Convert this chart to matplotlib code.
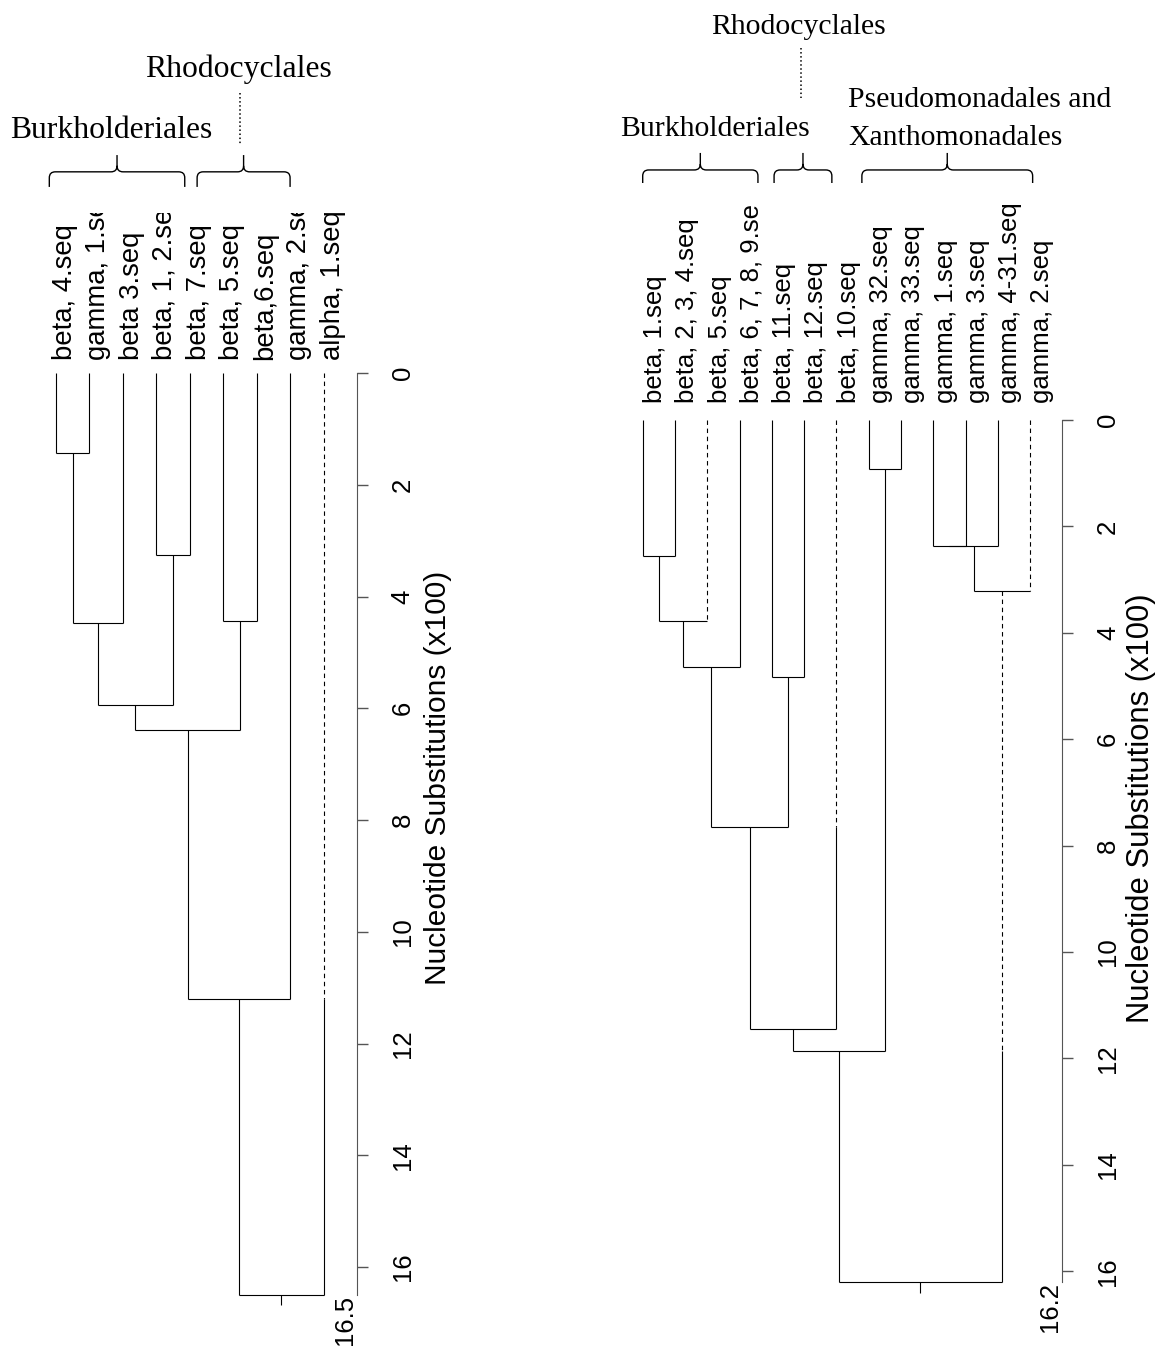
import matplotlib
matplotlib.use('Agg')
import matplotlib.pyplot as plt
from matplotlib.path import Path
from matplotlib.patches import PathPatch
from matplotlib.transforms import Bbox, TransformedBbox

plt.rcParams['font.family'] = ['Liberation Sans', 'DejaVu Sans']

# левое дерево: листья, слияния (узел a, узел b, высота), пунктирные ветви
left_leaves = [
    'beta, 4.seq', 'gamma, 1.seq', 'beta 3.seq', 'beta, 1, 2.seq', 'beta, 7.seq',
    'beta, 5.seq', 'beta,6.seq', 'gamma, 2.seq', 'alpha, 1.seq',
]
left_merges = [
    (0, 1, 1.43),
    (3, 4, 3.26),
    (9, 2, 4.48),
    (5, 6, 4.44),
    (11, 10, 5.94),
    (13, 12, 6.38),
    (14, 7, 11.21),
    (15, 8, 16.5),
]
left_dashed = {8: 11.21}
left_ticks = [0, 2, 4, 6, 8, 10, 12, 14, 16]
left_max = 16.5

# правое дерево
right_leaves = [
    'beta, 1.seq', 'beta, 2, 3, 4.seq', 'beta, 5.seq', 'beta, 6, 7, 8, 9.seq',
    'beta, 11.seq', 'beta, 12.seq', 'beta, 10.seq', 'gamma, 32.seq', 'gamma, 33.seq',
    'gamma, 1.seq', 'gamma, 3.seq', 'gamma, 4-31.seq', 'gamma, 2.seq',
]
right_merges = [
    (0, 1, 2.55),
    (13, 2, 3.78),
    (14, 3, 4.64),
    (4, 5, 4.83),
    (15, 16, 7.65),
    (17, 6, 11.45),
    (7, 8, 0.93),
    (18, 19, 11.87),
    (9, 10, 2.36),
    (21, 11, 2.36),
    (22, 12, 3.21),
    (20, 23, 16.2),
]
right_dashed = {2: 3.78, 6: 7.65, 12: 3.21, 23: 11.87}
right_ticks = [0, 2, 4, 6, 8, 10, 12, 14, 16]
right_max = 16.2

AXIS_TITLE = 'Nucleotide Substitutions (x100)'

W, H = 1157, 1353
LINE = dict(color='black', lw=0.8, solid_capstyle='butt')
DASH = (0, (4, 3.3))


def make_axes(fig, x0, xstep, y0, ystep, xlim):
    # оси в пиксельной раскладке: лист 0 в x0, высота 0 в y0
    left = x0 + xlim[0] * xstep
    right = x0 + xlim[1] * xstep
    ax = fig.add_axes([left / W, 0, (right - left) / W, 1])
    ax.set_xlim(*xlim)
    ax.set_ylim((H - y0) / ystep, -y0 / ystep)
    ax.patch.set_visible(False)
    for s in ('left', 'top', 'bottom'):
        ax.spines[s].set_visible(False)
    ax.set_xticks([])
    return ax


def draw_tree(ax, leaves, merges, dashed, stub):
    n = len(leaves)
    xs = [float(i) for i in range(n)]
    hs = [0.0] * n
    for a, b, h in merges:
        for c in (a, b):
            start = hs[c]
            if c in dashed:
                cut = min(dashed[c], h)
                ax.plot([xs[c], xs[c]], [start, cut], color='black', lw=0.8, ls=DASH)
                start = cut
            if start < h:
                ax.plot([xs[c], xs[c]], [start, h], **LINE)
        ax.plot([xs[a], xs[b]], [h, h], **LINE)
        xs.append((xs[a] + xs[b]) / 2)
        hs.append(h)
    ax.plot([xs[-1], xs[-1]], [hs[-1], hs[-1] + stub], **LINE)


def draw_axis(ax, ticks, top, pad, size):
    sp = ax.spines['right']
    sp.set_bounds(0, top)
    sp.set_color('#555555')
    ax.yaxis.tick_right()
    ax.set_yticks(ticks)
    ax.set_yticklabels([str(t) for t in ticks])
    ax.tick_params(axis='y', length=7.7, width=1, color='#555555', pad=pad,
                   labelsize=size, labelrotation=90)
    for t in ax.get_yticklabels():
        t.set_va('center')
    ax.text(ax.get_xlim()[1], top, str(top), rotation=90, ha='right', va='top',
            fontsize=size)


def leaf_labels(ax, leaves, dx, gap, clip_y, size):
    x0, x1 = ax.get_xlim()
    p0 = ax.transLimits.transform((x0, clip_y))
    p1 = ax.transLimits.transform((x1, 0))
    box = Bbox.from_extents(min(p0[0], p1[0]), min(p0[1], p1[1]),
                            max(p0[0], p1[0]), max(p0[1], p1[1]))
    clip = TransformedBbox(box, ax.transAxes)
    for i, lab in enumerate(leaves):
        t = ax.text(i + dx, -gap, lab, rotation=90, rotation_mode='anchor',
                    ha='left', va='baseline', fontsize=size, clip_on=True)
        t.set_clip_path(None)
        t.set_clip_box(clip)


def brace(ax, x0, x1, y_end, y_h, y_peak, rx, ry):
    xc = (x0 + x1) / 2
    verts = [
        (x0, y_end), (x0, y_h + ry), (x0, y_h), (x0 + rx, y_h),
        (xc - rx, y_h), (xc, y_h), (xc, y_h - ry), (xc, y_peak),
        (xc, y_h - ry), (xc, y_h), (xc + rx, y_h),
        (x1 - rx, y_h), (x1, y_h), (x1, y_h + ry), (x1, y_end),
    ]
    codes = [
        Path.MOVETO, Path.LINETO, Path.CURVE3, Path.CURVE3,
        Path.LINETO, Path.CURVE3, Path.CURVE3, Path.LINETO,
        Path.MOVETO, Path.CURVE3, Path.CURVE3,
        Path.LINETO, Path.CURVE3, Path.CURVE3, Path.LINETO,
    ]
    ax.add_patch(PathPatch(Path(verts, codes), fill=False, lw=1.0,
                           edgecolor='black', clip_on=False))


fig = plt.figure(figsize=(W / 100, H / 100), dpi=100)
serif = ['Liberation Serif', 'DejaVu Serif']

# ---- левая дендрограмма
axl = make_axes(fig, 56, 33.44, 373, 55.88, (-1.6, 9))
draw_tree(axl, left_leaves, left_merges, left_dashed, 0.18)
draw_axis(axl, left_ticks, left_max, 16.5, 18.5)
leaf_labels(axl, left_leaves, 0.48, 0.23, -2.86, 19.8)
axl.text(11.42, 7.25, AXIS_TITLE, rotation=90, ha='center', va='center', fontsize=21.5)
brace(axl, -0.2, 3.85, -3.33, -3.60, -3.90, 0.18, 0.107)
brace(axl, 4.22, 7.0, -3.33, -3.60, -3.90, 0.18, 0.107)
axl.plot([5.5, 5.5], [-5.01, -4.08], color='black', lw=1.1, ls=':', clip_on=False)
axl.text(5.45, -5.30, 'Rhodocyclales', ha='center', va='baseline',
         family=serif, fontsize=22.8)
axl.text(1.64, -4.21, 'Burkholderiales', ha='center', va='baseline',
         family=serif, fontsize=22.8)

# ---- правая дендрограмма
axr = make_axes(fig, 642.7, 32.28, 420, 53.2, (-1, 13))
draw_tree(axr, right_leaves, right_merges, right_dashed, 0.21)
draw_axis(axr, right_ticks, right_max, 16.5, 18.5)
leaf_labels(axr, right_leaves, 0.6, 0.32, -4.04, 18.5)
axr.text(15.44, 7.3, AXIS_TITLE, rotation=90, ha='center', va='center', fontsize=22.3)
brace(axr, 0.0, 3.57, -4.455, -4.70, -5.02, 0.186, 0.113)
brace(axr, 4.07, 5.86, -4.455, -4.70, -5.02, 0.186, 0.113)
brace(axr, 6.79, 12.08, -4.455, -4.70, -5.02, 0.186, 0.113)
axr.plot([4.9, 4.9], [-6.99, -6.05], color='black', lw=1.1, ls=':', clip_on=False)
axr.text(4.84, -7.26, 'Rhodocyclales', ha='center', va='baseline',
         family=serif, fontsize=21.4)
axr.text(2.24, -5.34, 'Burkholderiales', ha='center', va='baseline',
         family=serif, fontsize=21.4)
axr.text(6.36, -5.88, 'Pseudomonadales and', ha='left', va='baseline',
         family=serif, fontsize=21.4)
axr.text(6.36, -5.17, 'Xanthomonadales', ha='left', va='baseline',
         family=serif, fontsize=21.4)

fig.savefig('out.png', dpi=100)
